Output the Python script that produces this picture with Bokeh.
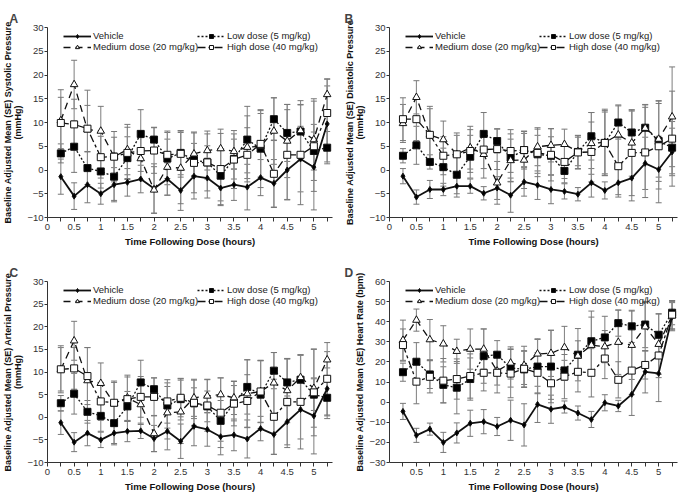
from bokeh.plotting import figure
from bokeh.models import (ColumnDataSource, Whisker, TeeHead, Legend, LegendItem,
                          FixedTicker, NumeralTickFormatter)
from bokeh.layouts import column, row
from bokeh.embed import file_html
from bokeh.resources import INLINE

# ---------------- data ----------------
time_h = [0.25, 0.5, 0.75, 1.0, 1.25, 1.5, 1.75, 2.0, 2.25, 2.5, 2.75,
          3.0, 3.25, 3.5, 3.75, 4.0, 4.25, 4.5, 4.75, 5.0, 5.25]

series_names = ["Vehicle", "Low dose (5 mg/kg)", "Medium dose (20 mg/kg)", "High dose (40 mg/kg)"]

# Panel A - systolic pressure (mmHg)
A_veh = [-1.4, -5.5, -3.1, -5.0, -3.1, -2.6, -1.9, -3.9, -1.9, -4.3, -1.3, -1.7, -3.8, -3.1, -3.6, -1.6, -2.8, 0.0, 2.3, 0.6, 9.7]
A_low = [3.5, 4.9, 0.4, -0.3, -1.4, 2.5, 7.6, 6.4, 2.4, 3.6, 2.1, 1.6, -1.2, 2.3, 6.4, 4.5, 10.7, 7.8, 8.1, 4.0, 4.7]
A_med = [10.4, 18.0, 8.5, 8.2, 2.8, 4.3, 2.4, -4.2, 0.6, 0.4, 3.4, 4.1, 4.5, 3.9, 4.8, 5.0, 8.2, 6.1, 8.3, 6.4, 15.9]
A_high = [9.9, 9.6, 8.7, 2.7, 2.8, 3.6, 4.0, 4.1, 3.2, 3.4, 1.5, 1.6, 0.2, 2.2, 3.2, 5.5, -0.8, 3.2, 3.2, 5.0, 12.0]
A_se_veh = [3.7, 2.8, 3.8, 2.2, 3.6, 2.9, 2.9, 5.2, 3.4, 4.2, 4.8, 4.2, 3.7, 3.3, 4.8, 3.8, 5.0, 6.2, 6.9, 9.0, 8.0]
A_se_low = [2.0, 5.4, 3.5, 3.5, 5.0, 4.5, 5.1, 2.6, 5.5, 4.6, 3.5, 3.5, 5.3, 4.2, 7.0, 8.2, 4.5, 6.0, 5.7, 4.0, 3.4]
A_se_med = [6.5, 5.1, 8.3, 5.2, 5.3, 5.3, 4.4, 4.9, 5.9, 7.5, 4.6, 4.1, 4.1, 3.7, 6.6, 6.9, 7.0, 7.7, 6.3, 8.6, 3.3]
A_se_high = [5.4, 5.3, 4.9, 4.4, 4.1, 5.4, 4.3, 4.8, 5.0, 4.9, 6.3, 6.0, 7.5, 6.1, 5.7, 7.0, 7.1, 9.5, 10.5, 9.5, 7.1]

# Panel B - diastolic pressure (mmHg)
B_veh = [-1.3, -5.7, -4.1, -4.1, -3.4, -3.4, -4.9, -3.8, -5.3, -2.5, -3.2, -4.1, -4.5, -5.1, -2.7, -4.3, -2.7, -1.7, 1.4, 0.1, 3.8]
B_low = [3.0, 5.2, 1.7, 0.6, -1.0, 2.8, 7.6, 6.1, 2.6, 4.2, 3.3, 3.0, -0.2, 3.8, 7.1, 5.7, 10.0, 7.9, 8.9, 6.1, 4.7]
B_med = [9.8, 15.3, 7.4, 6.4, 3.3, 4.7, 3.3, -2.7, 2.0, 2.1, 4.9, 5.2, 5.4, 3.9, 5.6, 5.8, 7.4, 5.7, 8.8, 6.5, 11.2]
B_high = [10.7, 10.7, 7.4, 3.0, 3.3, 4.0, 4.3, 4.4, 4.0, 4.2, 3.6, 3.2, 1.7, 3.7, 3.8, 5.7, 0.8, 3.6, 3.7, 5.0, 6.6]
B_se_veh = [1.6, 1.5, 1.9, 1.3, 2.3, 1.5, 1.4, 2.4, 3.6, 3.0, 3.0, 3.0, 1.6, 1.4, 3.0, 1.8, 3.0, 4.8, 5.5, 7.0, 5.0]
B_se_low = [1.5, 4.0, 1.5, 4.0, 4.0, 4.5, 4.5, 2.5, 5.0, 3.5, 4.0, 4.0, 2.5, 3.5, 5.0, 6.5, 3.5, 4.5, 4.8, 8.5, 5.5]
B_se_med = [4.0, 3.5, 5.5, 3.9, 4.0, 4.5, 5.0, 4.5, 4.5, 6.0, 4.0, 3.5, 3.2, 3.0, 6.5, 7.0, 6.3, 7.0, 5.0, 8.0, 10.5]
B_se_high = [4.5, 4.5, 6.0, 4.0, 4.5, 4.5, 4.0, 4.3, 4.5, 4.0, 5.0, 5.5, 3.5, 3.5, 6.3, 6.8, 6.0, 9.0, 9.5, 9.0, 10.0]

# Panel C - arterial pressure (mmHg)
C_veh = [-1.2, -5.5, -3.5, -5.0, -3.5, -3.1, -3.0, -4.7, -3.1, -5.3, -2.0, -2.7, -4.3, -3.9, -4.8, -2.5, -3.8, -1.0, 1.7, 0.3, 6.3]
C_low = [3.1, 5.2, 1.2, 0.3, -1.3, 2.4, 7.7, 6.2, 2.6, 4.0, 3.1, 2.4, -0.8, 3.1, 6.7, 5.0, 10.3, 7.7, 8.3, 5.0, 4.3]
C_med = [10.6, 16.9, 8.1, 7.5, 3.0, 4.3, 2.8, -3.6, 1.0, 1.2, 4.3, 4.7, 5.0, 4.3, 5.2, 5.7, 7.6, 5.9, 8.8, 6.4, 12.7]
C_high = [10.6, 10.8, 9.1, 3.5, 3.2, 4.0, 4.5, 4.5, 3.5, 4.3, 3.2, 2.6, 1.0, 3.0, 3.6, 5.7, 0.1, 3.4, 3.4, 5.5, 8.5]
C_se_veh = [2.6, 2.1, 2.8, 1.7, 2.6, 2.3, 1.7, 2.9, 4.1, 3.8, 4.3, 3.7, 4.0, 3.5, 4.2, 2.7, 4.4, 5.7, 6.5, 8.4, 6.0]
C_se_low = [1.7, 4.5, 2.5, 3.4, 4.5, 3.3, 4.9, 2.5, 5.0, 4.6, 3.4, 3.4, 4.5, 3.9, 6.0, 7.5, 4.0, 5.2, 5.4, 3.5, 4.6]
C_se_med = [4.8, 4.3, 7.3, 4.5, 5.0, 5.0, 4.4, 4.0, 5.8, 7.0, 4.1, 3.7, 3.7, 3.7, 7.5, 6.8, 6.7, 7.1, 5.0, 8.6, 1.8]
C_se_high = [5.2, 4.6, 6.3, 4.2, 4.5, 4.9, 4.5, 4.2, 4.8, 4.2, 5.0, 5.7, 7.7, 4.9, 5.8, 6.9, 8.3, 9.5, 10.4, 9.6, 8.0]

# Panel D - heart rate (bpm)
D_veh = [-4.6, -16.5, -13.4, -20.0, -15.3, -10.5, -9.7, -12.1, -9.0, -11.3, -1.1, -3.5, -2.4, -5.4, -8.6, -0.3, -1.9, 3.9, 15.1, 14.3, 42.5]
D_low = [14.9, 20.1, 13.8, 8.6, 7.2, 11.5, 22.9, 23.6, 17.0, 16.3, 17.7, 17.7, 15.8, 23.6, 30.3, 32.2, 39.3, 37.7, 38.6, 33.5, 44.5]
D_med = [30.8, 40.8, 31.1, 29.0, 25.3, 26.4, 26.4, 15.5, 19.5, 18.3, 24.0, 24.3, 27.2, 23.0, 28.3, 27.6, 29.8, 28.3, 37.5, 28.8, 43.0]
D_high = [28.4, 10.2, 12.6, 10.7, 11.5, 13.0, 14.6, 14.6, 14.2, 16.6, 14.6, 9.4, 12.7, 15.1, 14.6, 21.7, 11.1, 15.7, 18.5, 23.2, 43.5]
D_se_veh = [4.0, 3.5, 3.0, 5.0, 5.0, 6.5, 6.0, 4.5, 10.0, 10.5, 9.0, 7.0, 3.0, 3.5, 4.0, 4.0, 2.8, 10.5, 10.5, 14.0, 7.0]
D_se_low = [4.5, 9.5, 7.0, 9.0, 13.0, 10.5, 13.5, 7.0, 9.5, 9.0, 13.5, 18.0, 5.0, 13.0, 15.0, 10.5, 6.5, 8.0, 11.5, 10.5, 6.0]
D_se_med = [10.0, 5.5, 10.0, 9.0, 6.0, 10.0, 10.0, 7.0, 8.0, 9.5, 7.5, 11.5, 10.5, 7.5, 14.0, 8.0, 16.0, 17.0, 12.0, 15.0, 7.0]
D_se_high = [8.0, 11.0, 8.0, 11.0, 10.0, 11.0, 9.0, 10.0, 12.0, 9.0, 10.0, 8.0, 11.0, 10.0, 12.0, 10.0, 9.0, 12.0, 7.0, 11.0, 7.0]

# tick labels
x_ticks_full = [0, 0.5, 1, 1.5, 2, 2.5, 3, 3.5, 4, 4.5, 5]
x_ticks_D = [0.5, 1, 1.5, 2, 2.5, 3, 3.5, 4, 4.5, 5]
x_minor = [0.25, 0.75, 1.25, 1.75, 2.25, 2.75, 3.25, 3.75, 4.25, 4.75, 5.25]
y_ticks_bp = [-10, -5, 0, 5, 10, 15, 20, 25, 30]
y_ticks_hr = [-30, -20, -10, 0, 10, 20, 30, 40, 50, 60]

FONT = "Liberation Sans"

STYLES = [
    dict(dash="solid", lw=1.8, marker="diamond", size=6, fill="black"),
    dict(dash="2 2", lw=1.3, marker="square", size=7, fill="black"),
    dict(dash="7 5", lw=1.3, marker="triangle", size=7.5, fill="white"),
    dict(dash="8 3 3 3", lw=1.3, marker="square", size=7, fill="white"),
]


def make_panel(letter, ylabel, yr, yticks, means, ses, xticks, width, height,
               bl, br, bt, bb):
    p = figure(width=width, height=height, x_range=(0, 5.35), y_range=yr,
               output_backend="svg", toolbar_location=None,
               min_border_left=bl, min_border_right=br,
               min_border_top=bt, min_border_bottom=bb)
    p.outline_line_color = None
    p.xgrid.visible = False
    p.ygrid.visible = False
    p.background_fill_color = "white"
    frame_h = height - bt - bb

    p.title.text = letter
    p.title.text_font = FONT
    p.title.text_font_size = "12px"
    p.title.text_font_style = "bold"
    p.title.align = "left"
    p.title.offset = -(bl - 2)
    p.title.standoff = 4

    xa = p.xaxis[0]
    xa.ticker = FixedTicker(ticks=xticks, minor_ticks=x_minor)
    xa.formatter = NumeralTickFormatter(format="0.[0]")
    xa.axis_label = "Time Following Dose (hours)"
    ya = p.yaxis[0]
    ya.ticker = FixedTicker(ticks=yticks)
    ya.axis_label = ylabel
    for ax in (xa, ya):
        ax.axis_label_text_font = FONT
        ax.axis_label_text_font_style = "bold"
        ax.axis_label_text_font_size = "9.5px"
        ax.axis_label_text_color = "#111111"
        ax.axis_label_standoff = 3
        ax.major_label_text_font = FONT
        ax.major_label_text_font_size = "9.5px"
        ax.major_label_text_color = "#333333"
        ax.major_label_standoff = 2
        ax.major_tick_in = 0
        ax.major_tick_out = 4
        ax.minor_tick_in = 0
        ax.minor_tick_out = 4
        ax.axis_line_color = "#333333"
        ax.major_tick_line_color = "#333333"
        ax.minor_tick_line_color = "#333333"
    ya.minor_tick_line_color = None
    ya.axis_label_text_font_size = "9px"
    ya.axis_label_text_line_height = 1.0
    ya.axis_label_standoff = 1
    ya.major_label_standoff = 1
    ya.major_tick_out = 3

    items = []
    for name, m, se, st in zip(series_names, means, ses, STYLES):
        src = ColumnDataSource(dict(t=time_h, m=m,
                                    up=[a + b for a, b in zip(m, se)],
                                    lo=[a - b for a, b in zip(m, se)]))
        w = Whisker(source=src, base="t", upper="up", lower="lo", dimension="height",
                    line_color="#8a8a8a", line_width=1.1,
                    upper_head=TeeHead(size=6, line_color="#777777", line_width=1),
                    lower_head=TeeHead(size=6, line_color="#777777", line_width=1))
        p.add_layout(w)
        lr = p.line("t", "m", source=src, line_color="#111111", line_width=st["lw"],
                    line_dash=st["dash"])
        sr = p.scatter("t", "m", source=src, marker=st["marker"], size=st["size"],
                       fill_color=st["fill"], line_color="#111111", line_width=1)
        items.append(LegendItem(label=name, renderers=[lr, sr]))

    leg_h = 20
    for its, x0 in (([items[0], items[2]], 16), ([items[1], items[3]], 150)):
        lg = Legend(items=its, location=(x0, frame_h - 5 - leg_h), orientation="vertical",
                    label_text_font=FONT, label_text_font_size="9.5px",
                    label_text_color="#222222", label_height=10, glyph_height=10,
                    glyph_width=28, label_standoff=2, spacing=0, padding=0, margin=0,
                    background_fill_alpha=0, border_line_color=None)
        p.add_layout(lg)
    return p


pA = make_panel("A", "Baseline Adjusted Mean (SE) Systolic Pressure\n(mmHg)", (-10, 30), y_ticks_bp,
                [A_veh, A_low, A_med, A_high], [A_se_veh, A_se_low, A_se_med, A_se_high],
                x_ticks_full, 342, 251, 40, 10, 27, 34)
pB = make_panel("B", "Baseline Adjusted Mean (SE) Diastolic Pressure\n(mmHg)", (-10, 30), y_ticks_bp,
                [B_veh, B_low, B_med, B_high], [B_se_veh, B_se_low, B_se_med, B_se_high],
                x_ticks_full, 337, 251, 47, 2, 27, 34)
pC = make_panel("C", "Baseline Adjusted Mean (SE) Arterial Pressure\n(mmHg)", (-10, 30), y_ticks_bp,
                [C_veh, C_low, C_med, C_high], [C_se_veh, C_se_low, C_se_med, C_se_high],
                x_ticks_full, 342, 243, 40, 10, 30, 32)
pD = make_panel("D", "Baseline Adjusted Mean (SE) Heart Rate (bpm)", (-30, 60), y_ticks_hr,
                [D_veh, D_low, D_med, D_high], [D_se_veh, D_se_low, D_se_med, D_se_high],
                x_ticks_D, 337, 243, 47, 2, 30, 32)

layout = column(row(pA, pB), row(pC, pD))
open("out.html", "w").write(file_html(layout, INLINE))
